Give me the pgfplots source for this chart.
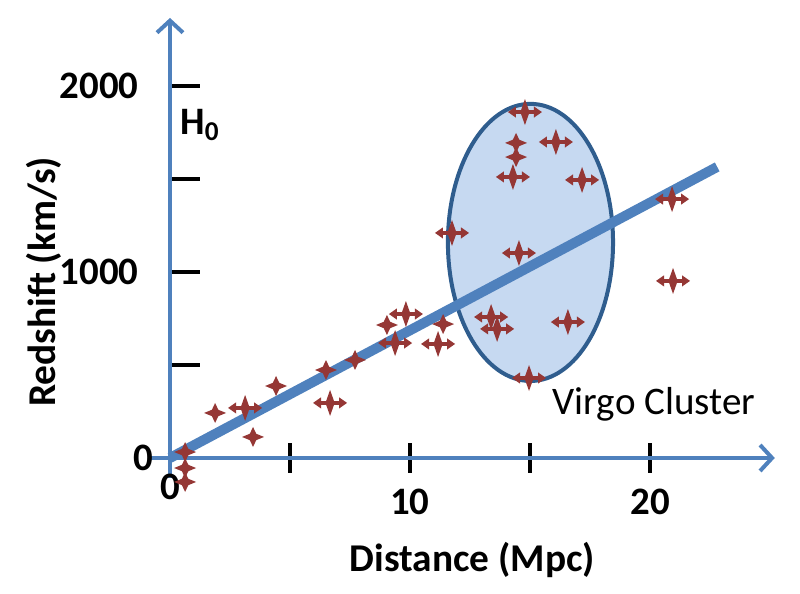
\documentclass[border=0pt]{standalone}
\usepackage{fontspec}
\setmainfont{Carlito}
\usepackage{pgfplots}
\pgfplotsset{compat=1.18}
\usetikzlibrary{arrows.meta}
\definecolor{axblue}{HTML}{4F81BD}
\definecolor{ptred}{HTML}{953735}
\definecolor{ellfill}{HTML}{C6D9F1}
\definecolor{elledge}{HTML}{2F5D8E}

% plain four-pointed star
\pgfdeclareplotmark{star4}{%
  \pgfpathmoveto{\pgfpoint{5.5bp}{0bp}}%
  \pgfpathlineto{\pgfpoint{1.6bp}{1.6bp}}%
  \pgfpathlineto{\pgfpoint{0bp}{5bp}}%
  \pgfpathlineto{\pgfpoint{-1.6bp}{1.6bp}}%
  \pgfpathlineto{\pgfpoint{-5.5bp}{0bp}}%
  \pgfpathlineto{\pgfpoint{-1.6bp}{-1.6bp}}%
  \pgfpathlineto{\pgfpoint{0bp}{-5bp}}%
  \pgfpathlineto{\pgfpoint{1.6bp}{-1.6bp}}%
  \pgfpathclose
  \pgfusepath{fill}%
}
% star with error arrows
\pgfdeclareplotmark{star4arr}{%
  \pgfpathmoveto{\pgfpoint{0bp}{6.5bp}}%
  \pgfpathlineto{\pgfpoint{2.3bp}{0bp}}%
  \pgfpathlineto{\pgfpoint{0bp}{-6.5bp}}%
  \pgfpathlineto{\pgfpoint{-2.3bp}{0bp}}%
  \pgfpathclose
  \pgfusepath{fill}%
  \pgfpathrectangle{\pgfpoint{-5bp}{-1.2bp}}{\pgfpoint{10bp}{2.4bp}}%
  \pgfusepath{fill}%
  \pgfpathmoveto{\pgfpoint{8.5bp}{0bp}}%
  \pgfpathlineto{\pgfpoint{4.5bp}{2.8bp}}%
  \pgfpathlineto{\pgfpoint{4.5bp}{-2.8bp}}%
  \pgfpathclose
  \pgfusepath{fill}%
  \pgfpathmoveto{\pgfpoint{-8.5bp}{0bp}}%
  \pgfpathlineto{\pgfpoint{-4.5bp}{2.8bp}}%
  \pgfpathlineto{\pgfpoint{-4.5bp}{-2.8bp}}%
  \pgfpathclose
  \pgfusepath{fill}%
}

\begin{document}
\begin{tikzpicture}
\begin{axis}[
  x=12bp, y=0.093bp,
  xmin=-0.83, xmax=25.2, ymin=-108, ymax=2366,
  axis lines=middle,
  axis line style={draw=axblue, line width=2bp, -{Straight Barb[length=6bp,width=13bp]}},
  clip=false,
  hide obscured x ticks=false, hide obscured y ticks=false,
  xtick={5,10,15,20}, xticklabels={,10,,20},
  ytick={500,1000,1500,2000}, yticklabels={,1000,,2000},
  extra x ticks={0}, extra x tick labels={0},
  extra x tick style={major tick length=0pt},
  extra y ticks={0}, extra y tick labels={0},
  extra y tick style={major tick length=0pt},
  tick align=center,
  major tick length=15bp,
  tick style={black, line width=2bp},
  ytick style={xshift=7.5bp},
  ticklabel style={font=\bfseries\fontsize{19.5}{22}\selectfont, inner sep=0pt},
  xticklabel style={anchor=north, yshift=-8bp},
  yticklabel style={anchor=east, xshift=-8bp},
  xlabel={Distance (Mpc)}, ylabel={Redshift (km/s)},
  label style={font=\bfseries\fontsize{19.75}{22}\selectfont},
  xlabel style={at={(axis cs:12.6,-548)}, anchor=center},
  ylabel style={at={(axis cs:-5.25,946)}, anchor=center, rotate=90},
]
\draw[elledge, line width=2bp, fill=ellfill] (axis cs:15.02,1159) ellipse [x radius=3.44, y radius=745];

\addplot[axblue, line width=5bp, line cap=butt] coordinates {(0,0) (22.8,1565)};

\addplot[only marks, mark=star4, color=ptred] coordinates {
  (0.63,32) (0.63,-54) (0.63,-129)
  (1.88,242) (3.46,113) (4.42,387) (6.5,473) (7.71,527)
  (9.04,715) (11.38,720) (14.42,1694) (14.42,1618)
};
\addplot[only marks, mark=star4arr, color=ptred] coordinates {
  (3.13,269) (6.67,296) (9.83,774) (9.38,618) (11.17,613)
  (14.79,1860) (14.29,1511) (16.08,1699) (17.17,1495)
  (11.75,1210) (14.54,1102) (13.38,758) (13.63,694)
  (16.58,731) (14.96,430) (20.92,1392) (20.96,952)
};

\node[font=\fontsize{19.6}{22}\selectfont] at (axis cs:20.17,290) {Virgo Cluster};
\node[font=\bfseries\fontsize{19.5}{22}\selectfont] at (axis cs:1.25,1790) {H\textsubscript{0}};

\path (axis cs:-7.083,-731.2) rectangle (axis cs:26.25,2462.4);
\end{axis}
\end{tikzpicture}
\end{document}
